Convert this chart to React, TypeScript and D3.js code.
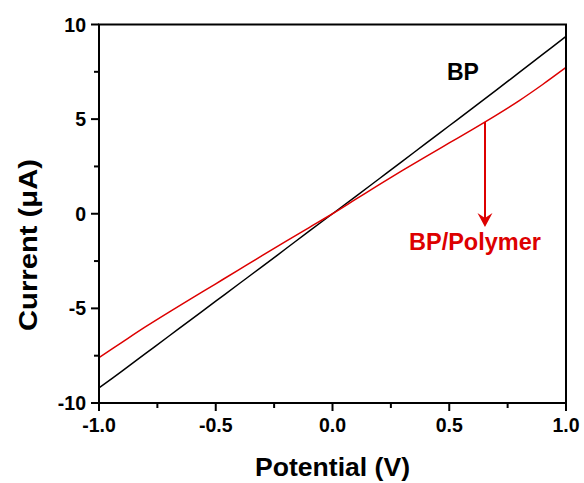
import React from "react";
import * as d3 from "d3";

// potential (V) sampled every 0.1 V
const potential = [
  -1.0, -0.9, -0.8, -0.7, -0.6, -0.5, -0.4, -0.3, -0.2, -0.1, 0.0,
  0.1, 0.2, 0.3, 0.4, 0.5, 0.6, 0.7, 0.8, 0.9, 1.0,
];
// current (uA)
const currentBP = [
  -9.2, -8.3, -7.38, -6.46, -5.54, -4.62, -3.7, -2.78, -1.85, -0.92, 0.0,
  0.92, 1.85, 2.78, 3.72, 4.65, 5.58, 6.52, 7.47, 8.42, 9.37,
];
const currentPolymer = [
  -7.6, -6.78, -5.97, -5.2, -4.45, -3.7, -2.95, -2.2, -1.46, -0.73, 0.0,
  0.77, 1.54, 2.29, 3.02, 3.74, 4.46, 5.2, 5.98, 6.83, 7.73,
];
const xTicks = [-1.0, -0.5, 0.0, 0.5, 1.0];
const xMinorTicks = [-0.75, -0.25, 0.25, 0.75];
const yTicks = [-10, -5, 0, 5, 10];
const yMinorTicks = [-7.5, -2.5, 2.5, 7.5];
const arrowAt = 0.653;

const RED = "#dd0000";
const FONT = "'Liberation Sans', Arial, sans-serif";

const App = () => {
  const left = 99;
  const right = 566;
  const top = 24.5;
  const bottom = 403;

  const x = d3.scaleLinear().domain([-1, 1]).range([left, right]);
  const y = d3.scaleLinear().domain([-10, 10]).range([bottom, top]);

  const line = d3
    .line<number>()
    .x((_, i) => x(potential[i]))
    .y((d) => y(d))
    .curve(d3.curveCatmullRom);

  // red curve value under the arrow
  const polyInterp = d3.scaleLinear().domain(potential).range(currentPolymer);
  const ax = x(arrowAt);
  const ay = y(polyInterp(arrowAt));
  const tipY = 227;

  return (
    <svg
      width={584}
      height={483}
      style={{ position: "absolute", left: 0, top: 0, background: "#fff" }}
      fontFamily={FONT}
    >
      <path d={line(currentBP) ?? ""} fill="none" stroke="#000" strokeWidth={1.5} />
      <path d={line(currentPolymer) ?? ""} fill="none" stroke={RED} strokeWidth={1.5} />

      {/* frame */}
      <rect
        x={left}
        y={top}
        width={right - left}
        height={bottom - top}
        fill="none"
        stroke="#000"
        strokeWidth={2}
      />

      {/* x axis ticks */}
      {xTicks.map((t) => (
        <g key={"xt" + t}>
          <line x1={x(t)} x2={x(t)} y1={bottom} y2={bottom + 8} stroke="#000" strokeWidth={2} />
          <text x={x(t)} y={432} textAnchor="middle" fontSize={19.5} fontWeight="bold">
            {d3.format(".1f")(t).replace("−", "-")}
          </text>
        </g>
      ))}
      {xMinorTicks.map((t) => (
        <line key={"xm" + t} x1={x(t)} x2={x(t)} y1={bottom} y2={bottom + 5} stroke="#000" strokeWidth={2} />
      ))}

      {/* y axis ticks */}
      {yTicks.map((t) => (
        <g key={"yt" + t}>
          <line x1={left - 8} x2={left} y1={y(t)} y2={y(t)} stroke="#000" strokeWidth={2} />
          <text x={86} y={y(t) + 7} textAnchor="end" fontSize={19.5} fontWeight="bold">
            {String(t)}
          </text>
        </g>
      ))}
      {yMinorTicks.map((t) => (
        <line key={"ym" + t} x1={left - 5} x2={left} y1={y(t)} y2={y(t)} stroke="#000" strokeWidth={2} />
      ))}

      {/* axis titles */}
      <text
        x={(left + right) / 2}
        y={476}
        textAnchor="middle"
        fontSize={26}
        fontWeight="bold"
        textLength={155}
        lengthAdjust="spacingAndGlyphs"
      >
        Potential (V)
      </text>
      <text
        transform="translate(37,245) rotate(-90)"
        textAnchor="middle"
        fontSize={26}
        fontWeight="bold"
        textLength={172}
        lengthAdjust="spacingAndGlyphs"
      >
        Current (μA)
      </text>

      {/* annotations */}
      <text x={447} y={80} fontSize={23} fontWeight="bold">
        BP
      </text>
      <line x1={ax} x2={ax} y1={ay} y2={tipY - 6} stroke={RED} strokeWidth={2} />
      <path
        d={`M${ax},${tipY} L${ax - 7.5},${tipY - 14} L${ax},${tipY - 9} L${ax + 7.5},${tipY - 14} Z`}
        fill={RED}
      />
      <text x={409} y={250} fontSize={23.5} fontWeight="bold" fill={RED}>
        BP/Polymer
      </text>
    </svg>
  );
};

export default App;
